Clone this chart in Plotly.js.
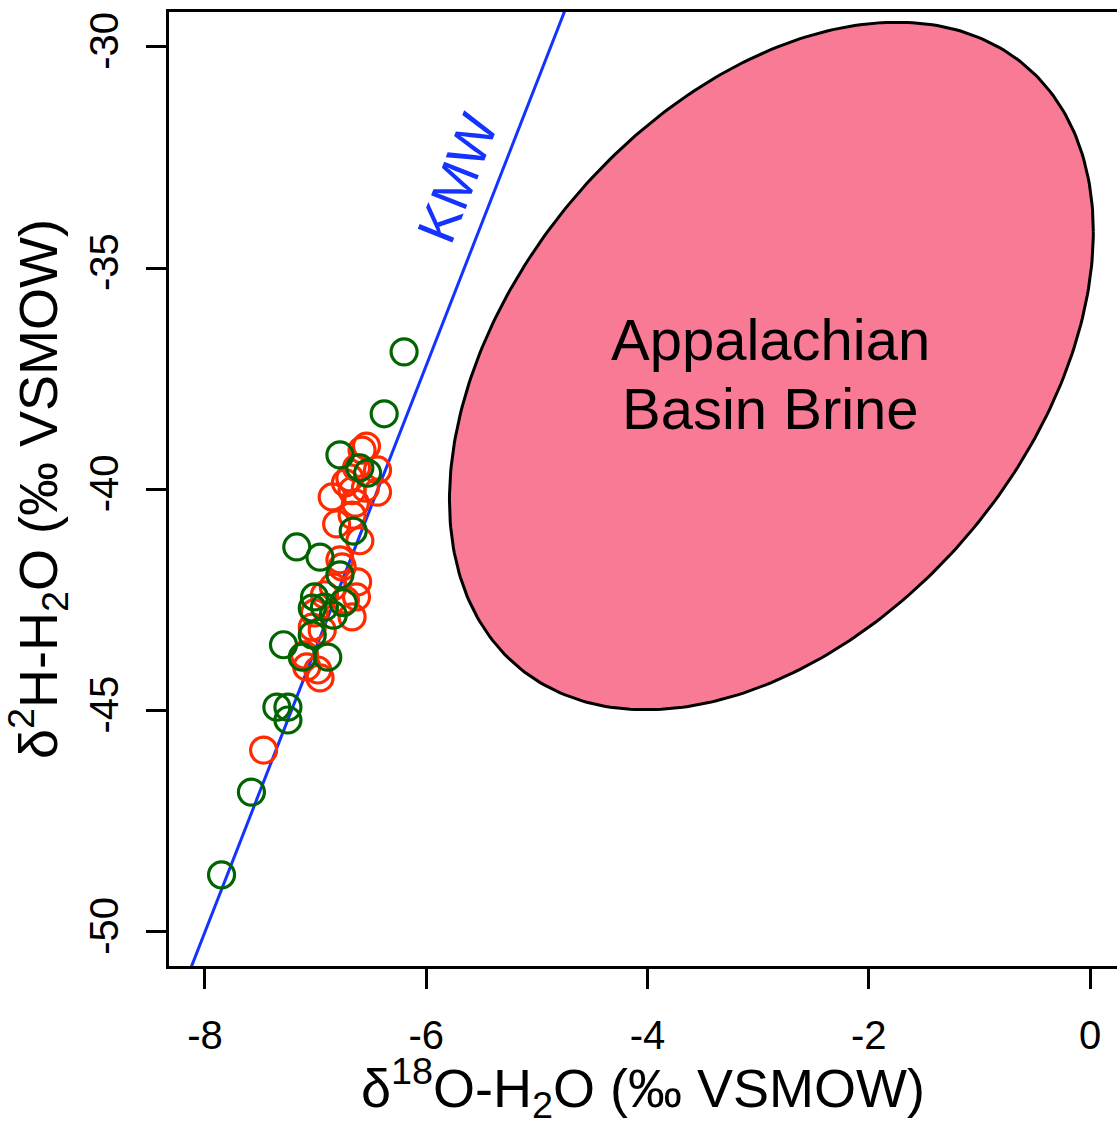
<!DOCTYPE html>
<html>
<head>
<meta charset="utf-8">
<script src="https://cdn.plot.ly/plotly-3.0.1.min.js"></script>
<style>
  html, body { margin: 0; padding: 0; background: #fff; overflow: hidden; }
  #chart { width: 1117px; height: 1126px; }
</style>
</head>
<body>
<div id="chart"></div>
<script>
// Water isotope samples, δ18O and δ2H (‰ VSMOW)
const redO18 = [-6.54, -6.58, -6.63, -6.44, -6.69, -6.55, -6.85, -6.67, -6.44, -6.73,
                -6.64, -6.81, -6.67, -6.60, -6.76, -6.62, -6.84, -6.63, -6.73, -6.67,
                -7.01, -6.92, -7.03, -7.10, -7.08, -6.98, -6.96, -7.47, -6.78, -6.94];
const redH2  = [-39.02, -39.11, -39.51, -39.56, -39.74, -39.97, -40.17, -40.03, -40.06, -39.85,
                -40.31, -40.78, -40.58, -41.16, -41.75, -42.09, -42.20, -42.43, -42.50, -42.88,
                -42.79, -42.38, -43.11, -43.74, -44.01, -44.08, -44.26, -45.89, -41.59, -43.18];

const greenO18 = [-6.20, -6.38, -6.78, -6.60, -6.53, -6.66, -7.17, -6.96, -6.78, -7.01,
                  -7.03, -6.75, -6.84, -6.92, -7.03, -7.29, -7.12, -6.89, -7.35, -7.25,
                  -7.25, -7.58, -7.85];
const greenH2  = [-36.89, -38.29, -39.22, -39.51, -39.63, -40.94, -41.30, -41.53, -41.93, -42.43,
                  -42.68, -42.56, -42.84, -42.66, -43.29, -43.51, -43.79, -43.79, -44.92, -44.92,
                  -45.21, -46.84, -48.71];

// Local meteoric water line (KMW): δ2H = slope·δ18O + intercept
const kmwSlope = 6.4;
const kmwIntercept = 1.2;
const kmwO18 = [-8.6, -4.5];

// Appalachian Basin brine field: centre, half-extents and correlation
const brineCenter = [-2.88, -37.21];
const brineHalfWidth = [2.91, 7.77];
const brineCorr = 0.39;

// Axis ticks
const xTicks = [-8, -6, -4, -2, 0];
const yTicks = [-50, -45, -40, -35, -30];

const FONT = '"Liberation Sans", Arial, Helvetica, sans-serif';

// Brine outline
const phase = Math.acos(brineCorr);
const brineX = [], brineY = [];
for (let i = 0; i <= 360; i++) {
  const t = i * Math.PI / 180;
  brineX.push(brineCenter[0] + brineHalfWidth[0] * Math.cos(t));
  brineY.push(brineCenter[1] + brineHalfWidth[1] * Math.cos(t - phase));
}

const kmwH2 = kmwO18.map(v => kmwSlope * v + kmwIntercept);

const traces = [
  {
    x: brineX, y: brineY, type: 'scatter', mode: 'lines',
    fill: 'toself', fillcolor: '#F87A95',
    line: { color: '#000000', width: 3 },
    hoverinfo: 'skip', showlegend: false
  },
  {
    x: kmwO18, y: kmwH2, type: 'scatter', mode: 'lines',
    line: { color: '#1533FF', width: 3 },
    showlegend: false
  },
  {
    x: redO18, y: redH2, type: 'scatter', mode: 'markers',
    marker: { symbol: 'circle-open', size: 26, color: '#FF2A00', line: { width: 3.2, color: '#FF2A00' } },
    showlegend: false
  },
  {
    x: greenO18, y: greenH2, type: 'scatter', mode: 'markers',
    marker: { symbol: 'circle-open', size: 26, color: '#006400', line: { width: 3.2, color: '#006400' } },
    showlegend: false
  }
];

const layout = {
  width: 1117, height: 1126,
  margin: { l: 169, r: 0, t: 12, b: 160 },
  paper_bgcolor: '#ffffff', plot_bgcolor: '#ffffff',
  showlegend: false,
  font: { family: FONT, color: '#000000' },
  xaxis: {
    range: [-8.325, 0.244],
    tickvals: xTicks, ticktext: xTicks.map(String),
    ticks: 'outside', ticklen: 20, tickwidth: 3, tickcolor: '#000',
    ticklabelstandoff: 12,
    tickfont: { size: 40, family: FONT },
    showline: true, linewidth: 3, linecolor: '#000', mirror: true,
    showgrid: false, zeroline: false,
    title: { text: 'δ<sup>18</sup>O-H<sub>2</sub>O (‰ VSMOW)', font: { size: 54, family: FONT }, standoff: 25 }
  },
  yaxis: {
    range: [-50.77, -29.21],
    tickvals: yTicks, ticktext: yTicks.map(String),
    tickangle: -90,
    ticks: 'outside', ticklen: 20, tickwidth: 3, tickcolor: '#000',
    ticklabelstandoff: 12,
    tickfont: { size: 40, family: FONT },
    showline: true, linewidth: 3, linecolor: '#000', mirror: false,
    showgrid: false, zeroline: false,
    title: { text: 'δ<sup>2</sup>H-H<sub>2</sub>O (‰ VSMOW)', font: { size: 54, family: FONT }, standoff: 10 }
  },
  annotations: [
    { x: -2.89, y: -36.62, xref: 'x', yref: 'y', text: 'Appalachian', showarrow: false,
      font: { size: 58, family: FONT, color: '#000' } },
    { x: -2.89, y: -38.18, xref: 'x', yref: 'y', text: 'Basin Brine', showarrow: false,
      font: { size: 58, family: FONT, color: '#000' } },
    { x: -5.72, y: -32.96, xref: 'x', yref: 'y', text: 'KMW', showarrow: false,
      textangle: -68.6, font: { size: 54, family: FONT, color: '#1533FF' } }
  ]
};

Plotly.newPlot('chart', traces, layout, { displayModeBar: false, staticPlot: true });
</script>
</body>
</html>
